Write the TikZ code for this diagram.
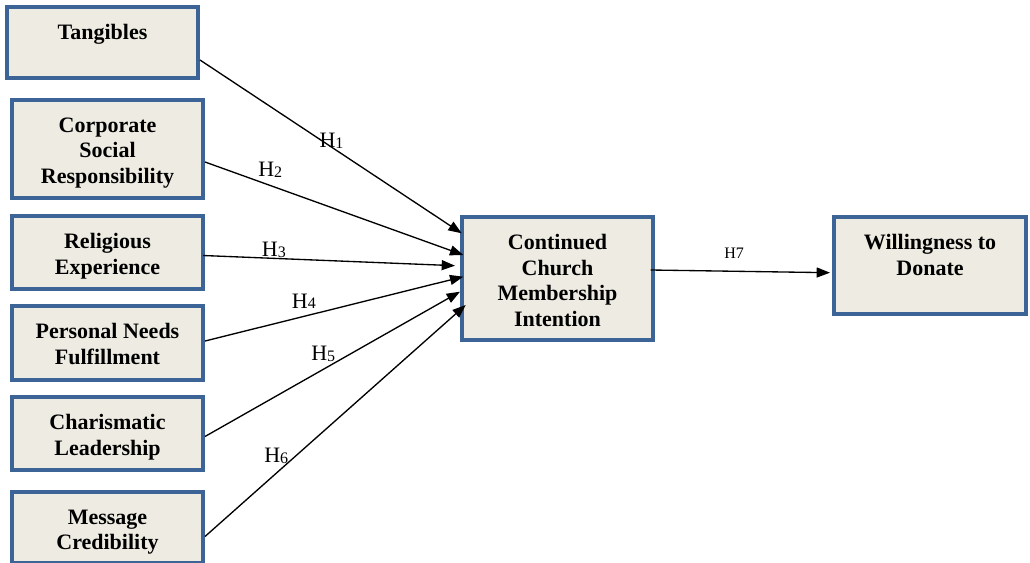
\documentclass[tikz,border=0pt]{standalone}
\usepackage{fontspec}
\setmainfont{Liberation Serif}
\usetikzlibrary{arrows.meta,calc}
\definecolor{boxline}{HTML}{3C6496}
\definecolor{boxfill}{HTML}{EEECE2}
\newcommand{\hyp}[1]{H{\fontsize{12}{12}\selectfont\raisebox{-0.5pt}{#1}}}
\begin{document}
\begin{tikzpicture}[x=0.75pt,y=-0.75pt,
  box/.style={draw=boxline,fill=boxfill,line width=3pt,minimum width=143.25pt,inner sep=0pt},
  boxtext/.style={anchor=north,inner sep=0pt,yshift=-14.5pt,align=center,
    font=\fontsize{16.5}{19.1}\selectfont\bfseries},
  hlab/.style={anchor=base west,inner sep=0pt,font=\fontsize{16.5}{19}\selectfont},
  conn/.style={line width=1pt,-{Triangle[length=10pt,width=7.5pt]}}]
\useasboundingbox (0,0) rectangle (1030,563);
\node[box,minimum height=53.25pt,label={[boxtext]north:Tangibles}] (tang) at (102.5,42.5) {};
\node[box,minimum height=73.5pt,label={[boxtext]north:Corporate\\Social\\Responsibility}] (csr) at (107.5,149) {};
\node[box,minimum height=54.75pt,label={[boxtext]north:Religious\\Experience}] (rel) at (107.5,252.5) {};
\node[box,minimum height=55.5pt,label={[boxtext]north:Personal Needs\\Fulfillment}] (pers) at (107.5,343) {};
\node[box,minimum height=54.75pt,label={[boxtext]north:Charismatic\\Leadership}] (char) at (107.5,433.5) {};
\node[box,minimum height=53.25pt,label={[boxtext]north:Message\\Credibility}] (msg) at (107.5,527.5) {};
\node[box,minimum height=92.25pt,label={[boxtext]north:Continued\\Church\\Membership\\Intention}] (cont) at (557.5,278.5) {};
\node[box,minimum width=144pt,minimum height=72.75pt,label={[boxtext]north:Willingness to\\Donate}] (will) at (930,265.5) {};

\draw[conn] ($(tang.east)+(0,17.5)$) -- ($(cont.west)+(1.7,-45.2)$);
\draw[conn] ($(csr.east)+(0,13)$) -- ($(cont.west)+(3.3,-23.5)$);
\draw[conn] ($(rel.east)+(-2,3)$) -- ($(cont.west)+(-5,-12.8)$);
\draw[conn] ($(pers.east)+(0,-2)$) -- ($(cont.west)+(3.3,-1.8)$);
\draw[conn] ($(char.east)+(0,3)$) -- ($(cont.west)+(0,13.2)$);
\draw[conn] ($(msg.east)+(0,9)$) -- ($(cont.west)+(5.7,26.5)$);
\draw[conn] ($(cont.east)+(-4.3,-8.5)$) -- ($(will.west)+(-2,7.2)$);

\node[hlab] (h1) at (319.3,147.7) {\hyp{1}};
\node[hlab] (h2) at (258,176.7) {\hyp{2}};
\node[hlab] (h3) at (261.7,256.7) {\hyp{3}};
\node[hlab] (h4) at (291.7,308.3) {\hyp{4}};
\node[hlab] (h5) at (311,360.7) {\hyp{5}};
\node[hlab] (h6) at (264,462.7) {\hyp{6}};
\node[hlab,font=\fontsize{12}{12}\selectfont] (h7) at (724,258) {H7};
\end{tikzpicture}
\end{document}
